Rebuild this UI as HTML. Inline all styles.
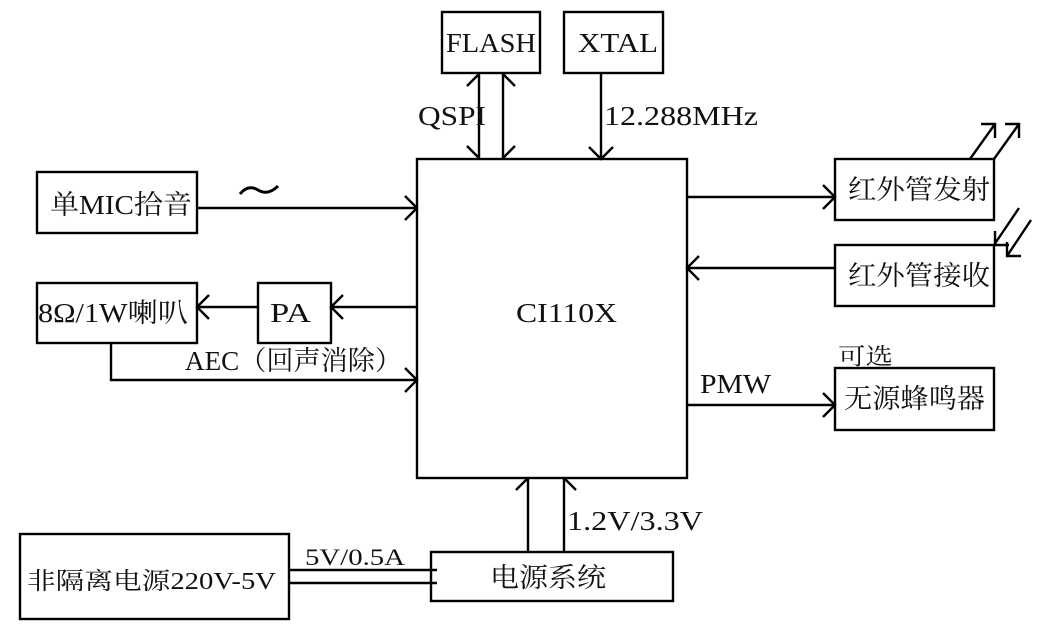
<!DOCTYPE html>
<html><head><meta charset="utf-8"><style>
html,body{margin:0;padding:0;background:#fff;}
svg{display:block;}
text{font-family:"Liberation Serif","Noto Serif CJK SC",serif;fill:#111;}
</style></head><body>
<svg width="1048" height="633" viewBox="0 0 1048 633" xmlns="http://www.w3.org/2000/svg">
<g fill="none" stroke="#000" stroke-width="2.4">
<rect x="442" y="12" width="98" height="61"/>
<rect x="564" y="12" width="99" height="61"/>
<rect x="417" y="159" width="270" height="319"/>
<rect x="37" y="172" width="160" height="61"/>
<rect x="37" y="283" width="160" height="60"/>
<rect x="258" y="283" width="73" height="60"/>
<rect x="835" y="159" width="159" height="61"/>
<rect x="835" y="245" width="159" height="61"/>
<rect x="835" y="368" width="159" height="62"/>
<rect x="20" y="534" width="269" height="85"/>
<rect x="431" y="552" width="242" height="49"/>
<path d="M479 73V159M503 73V159"/>
<path d="M467 86L479 74M503 74L515 86M467 146L479 158M515 146L503 158"/>
<path d="M601 73V159M589 147L601 159L613 147"/>
<path d="M197 208H417M405 196L417 208L405 220"/>
<path d="M417 307H331M343 295L331 307L343 319"/>
<path d="M258 307H197M209 295L197 307L209 319"/>
<path d="M111 343V380H417M405 368L417 380L405 392"/>
<path d="M687 197H835M823 185L835 197L823 209"/>
<path d="M835 268H687M699 256L687 268L699 280"/>
<path d="M687 405H835M823 393L835 405L823 417"/>
<path d="M970 159L995 124M981 124H995V138M994 159L1019 124M1005 124H1019V138"/>
<path d="M1019 208L994 245M995 231V245H1009M1031 220L1007 256M1007 242V256H1021"/>
<path d="M528 552V478M516 490L528 478M564 552V478M576 490L564 478"/>
<path d="M289 570H437M289 583H437"/>
</g>
<g font-size="27">
<text x="446" y="52" textLength="90" lengthAdjust="spacingAndGlyphs">FLASH</text>
<text x="578" y="52" textLength="80" lengthAdjust="spacingAndGlyphs">XTAL</text>
<text x="418" y="125" textLength="68" lengthAdjust="spacingAndGlyphs">QSPI</text>
<text x="604" y="125" textLength="154" lengthAdjust="spacingAndGlyphs">12.288MHz</text>
<text x="50" y="214" textLength="142" lengthAdjust="spacingAndGlyphs">单MIC拾音</text>
<path d="M240 194Q248 184 258 190T278 186" fill="none" stroke="#000" stroke-width="3"/>
<text x="38" y="322" textLength="150" lengthAdjust="spacingAndGlyphs">8Ω/1W喇叭</text>
<text x="270" y="322" textLength="41" lengthAdjust="spacingAndGlyphs">PA</text>
<text x="185" y="370" textLength="217" lengthAdjust="spacingAndGlyphs">AEC（回声消除）</text>
<text x="516" y="322" textLength="101" lengthAdjust="spacingAndGlyphs">CI110X</text>
<text x="848" y="199" textLength="142" lengthAdjust="spacingAndGlyphs">红外管发射</text>
<text x="848" y="285" textLength="142" lengthAdjust="spacingAndGlyphs">红外管接收</text>
<text x="838" y="364" font-size="23" textLength="55" lengthAdjust="spacingAndGlyphs">可选</text>
<text x="844" y="408" textLength="141" lengthAdjust="spacingAndGlyphs">无源蜂鸣器</text>
<text x="700" y="393" textLength="71" lengthAdjust="spacingAndGlyphs">PMW</text>
<text x="567" y="530" textLength="136" lengthAdjust="spacingAndGlyphs">1.2V/3.3V</text>
<text x="305" y="565" font-size="23" textLength="100" lengthAdjust="spacingAndGlyphs">5V/0.5A</text>
<text x="27" y="589" font-size="24" textLength="249" lengthAdjust="spacingAndGlyphs">非隔离电源220V-5V</text>
<text x="490" y="587" textLength="116" lengthAdjust="spacingAndGlyphs">电源系统</text>
</g>
</svg>
</body></html>
